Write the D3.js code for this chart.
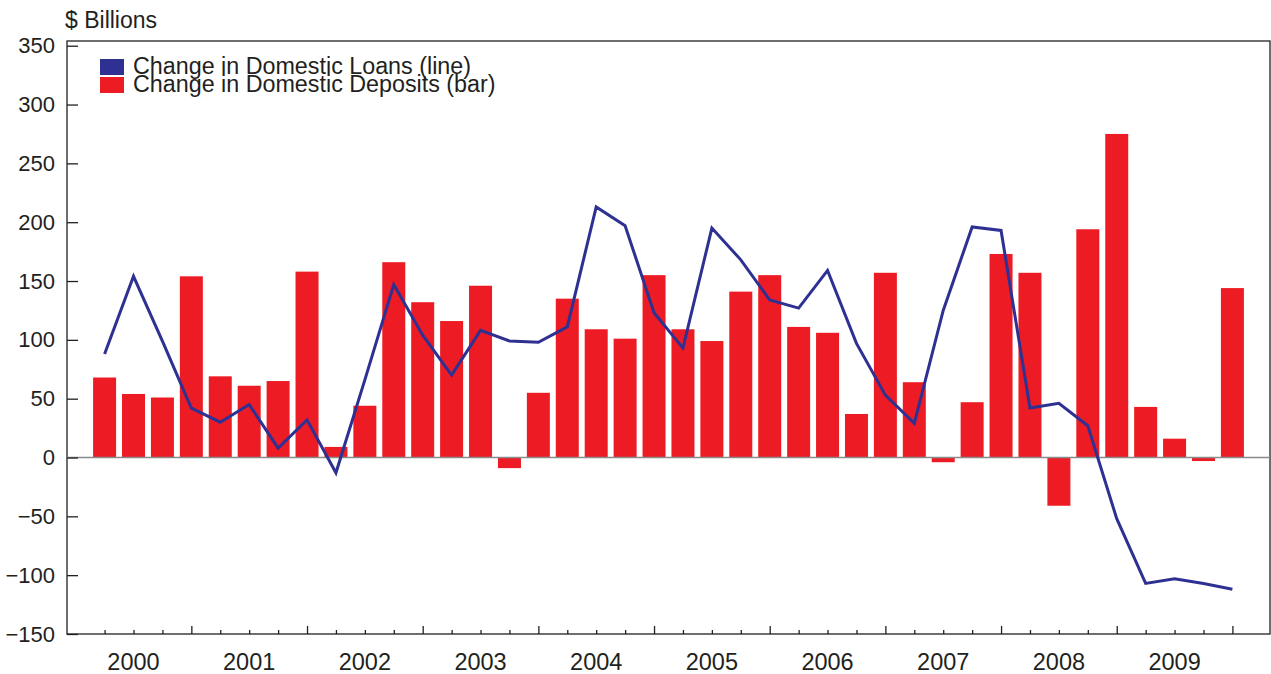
<!DOCTYPE html>
<meta charset="utf-8">
<html>
<head>
  <title>Loans vs Deposits</title>
  <style>
    body { margin: 0; background: #fff; }
    svg { display: block; font-family: 'Liberation Sans', Arial, Helvetica, sans-serif; }
    .bar { fill: #ed1c24; }
    .loans { fill: none; stroke: #2e3192; stroke-width: 3px; stroke-linejoin: miter; }
    .frame { fill: none; stroke: #231f20; stroke-width: 1.3px; }
    .zero { stroke: #8a8a8a; stroke-width: 1.5px; }
    .tick line { stroke: #231f20; stroke-width: 1.3px; }
    .tick text { fill: #231f20; }
  </style>
  <script src="https://d3js.org/d3.v7.min.js"></script>
</head>
<body>
  <svg width="1271" height="674"></svg>
  <script>
    // quarters 2000Q1 .. 2009Q4
    var years = ["2000", "2001", "2002", "2003", "2004", "2005", "2006", "2007", "2008", "2009"];
    var quarters = [];
    years.forEach(function(y) { [1, 2, 3, 4].forEach(function(q) { quarters.push(y + "Q" + q); }); });

    // change in domestic deposits (bars), $ billions
    var deposits = [68, 54, 51, 154, 69, 61, 65, 158, 9, 44, 166, 132,
                    116, 146, -9, 55, 135, 109, 101, 155, 109, 99, 141, 155,
                    111, 106, 37, 157, 64, -4, 47, 173, 157, -41, 194, 275,
                    43, 16, -3, 144];

    // change in domestic loans (line), $ billions
    var loans = [88, 154, 99, 42, 30, 45, 8, 32, -13, 66, 147, 104,
                 70, 108, 99, 98, 111, 213, 197, 123, 93, 195, 168, 134,
                 127, 159, 97, 53, 29, 125, 196, 193, 42, 46, 27, -52,
                 -107, -103, -107, -112];

    var yTicks = [-150, -100, -50, 0, 50, 100, 150, 200, 250, 300, 350];

    var svg = d3.select("svg");
    var margin = {top: 41, right: 1, bottom: 40, left: 67};
    var width = 1271 - margin.left - margin.right;
    var height = 674 - margin.top - margin.bottom;

    var g = svg.append("g")
      .attr("transform", "translate(" + margin.left + "," + margin.top + ")");

    var x = d3.scalePoint().domain(quarters).range([0, width]).padding(1.3);
    var y = d3.scaleLinear().domain([-150, 354]).range([height, 0]);
    var barW = 23;

    // frame
    g.append("rect").attr("class", "frame")
      .attr("x", 0).attr("y", 0).attr("width", width).attr("height", height);

    // bars
    g.selectAll(".bar")
      .data(deposits)
      .enter().append("rect")
        .attr("class", "bar")
        .attr("x", function(d, i) { return x(quarters[i]) - barW / 2; })
        .attr("width", barW)
        .attr("y", function(d) { return y(Math.max(0, d)); })
        .attr("height", function(d) { return Math.abs(y(d) - y(0)); });

    // zero line
    g.append("line").attr("class", "zero")
      .attr("x1", 0).attr("x2", width)
      .attr("y1", y(0)).attr("y2", y(0));

    // loans line
    var line = d3.line()
      .x(function(d, i) { return x(quarters[i]); })
      .y(function(d) { return y(d); });
    g.append("path").datum(loans).attr("class", "loans").attr("d", line);

    // y axis, ticks point inward
    var yAxis = g.append("g")
      .call(d3.axisLeft(y).tickValues(yTicks).tickSize(-11).tickPadding(12));
    yAxis.select(".domain").remove();
    yAxis.selectAll("text").style("font-size", "22px");

    // x axis, minor ticks at every quarter, major at Q4
    var xAxis = g.append("g")
      .attr("transform", "translate(0," + height + ")")
      .call(d3.axisBottom(x).tickSize(0).tickFormat(""));
    xAxis.select(".domain").remove();
    xAxis.selectAll(".tick line")
      .attr("y2", function(d) { return d.slice(-1) === "4" ? -8 : -4; });

    g.selectAll(".year")
      .data(years)
      .enter().append("text")
        .attr("class", "year")
        .attr("x", function(d) { return x(d + "Q2"); })
        .attr("y", height + 36)
        .attr("text-anchor", "middle")
        .style("font-size", "23.5px")
        .style("fill", "#231f20")
        .text(function(d) { return d; });

    // unit label
    svg.append("text")
      .attr("x", 65).attr("y", 28)
      .style("font-size", "23px").style("fill", "#231f20")
      .text("$ Billions");

    // legend (the two labels overlap in the original too)
    var legend = [
      {label: "Change in Domestic Loans (line)", color: "#2e3192", y: 59},
      {label: "Change in Domestic Deposits (bar)", color: "#ed1c24", y: 77}
    ];
    var lg = svg.append("g");
    lg.selectAll("rect")
      .data(legend)
      .enter().append("rect")
        .attr("x", 100).attr("y", function(d) { return d.y; })
        .attr("width", 24).attr("height", 16)
        .style("fill", function(d) { return d.color; });
    lg.selectAll("text")
      .data(legend)
      .enter().append("text")
        .attr("x", 133).attr("y", function(d) { return d.y + 15; })
        .style("font-size", "23.3px").style("fill", "#231f20")
        .text(function(d) { return d.label; });
  </script>
</body>
</html>
